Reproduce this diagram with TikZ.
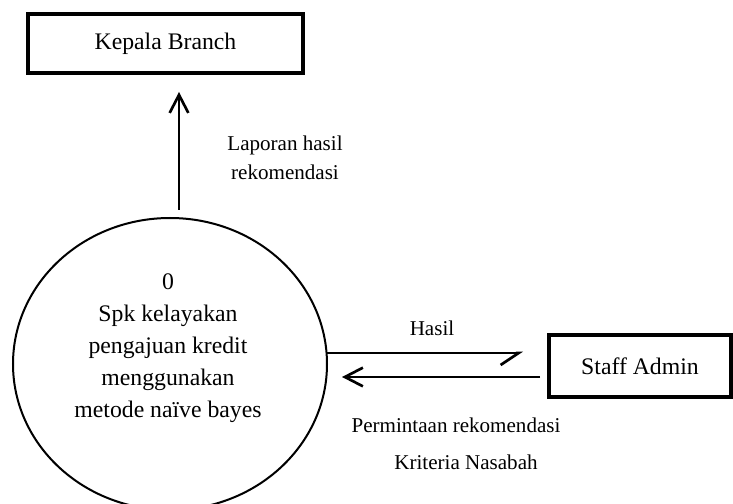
\documentclass[tikz,border=0pt]{standalone}
\usepackage{fontspec}
\setmainfont{Liberation Serif}
\usetikzlibrary{arrows.meta,shapes.geometric}
\tikzset{
  dfd diagram/.style={
    draw=black, line width=2pt,
    >={Straight Barb[length=13.5pt,width=14pt]},
    every node/.style={font=\fontsize{17.8}{24}\selectfont,
      text=black, inner sep=0pt, outer sep=0pt}
  },
  dfd entity/.style={draw, rectangle, line width=3.5pt},
  dfd process/.style={draw, ellipse, line width=1.5pt},
  dfd label/.style={font=\fontsize{15.8}{21.75}\selectfont, align=center},
  dfd harpoon/.style={-{Straight Barb[right,length=13.5pt,width=18pt]}}
}

\begin{document}
\begin{tikzpicture}[dfd diagram,x=15pt,y=15pt]
    \useasboundingbox (0,0) rectangle (36.65,25.2);
    % external entities and the process
    \node[dfd entity,minimum width=206.25pt,minimum height=44.25pt]
      (kepala) at (8.275,23.025) {Kepala Branch};
    \node[dfd entity,minimum width=136.5pt,minimum height=46.5pt]
      (staff) at (32,6.9) {Staff Admin};
    \node[dfd process,minimum width=235.5pt,minimum height=219pt]
      (proc) at (8.5,7.0) {};
    \node[align=center] (proctext) at (8.4,7.8)
      {0\\Spk kelayakan\\pengajuan kredit\\menggunakan\\metode naïve bayes};
    % data flows
    \draw[->,shorten <=6pt,shorten >=14.25pt]
      ([xshift=6.75pt]proc.north) -- ([xshift=6.75pt]proc.north |- kepala.south);
    \coordinate (hasil tip) at ([yshift=9.75pt]staff.west);
    \coordinate (minta tail) at ([yshift=-8.25pt]staff.west);
    \draw[dfd harpoon,shorten >=19.5pt] (proc.east |- hasil tip) -- (hasil tip);
    \draw[->,shorten <=6.75pt,shorten >=11.25pt]
      (minta tail) -- (proc.east |- minta tail);
    % flow labels
    \node[dfd label] (lapor) at (14.25,17.33) {Laporan hasil\\rekomendasi};
    \node[dfd label] (hasil) at (21.6,8.8) {Hasil};
    \node[dfd label] (minta) at (22.8,3.95) {Permintaan rekomendasi};
    \node[dfd label] (krit) at (23.3,2.1) {Kriteria Nasabah};
  \end{tikzpicture}
\end{document}
